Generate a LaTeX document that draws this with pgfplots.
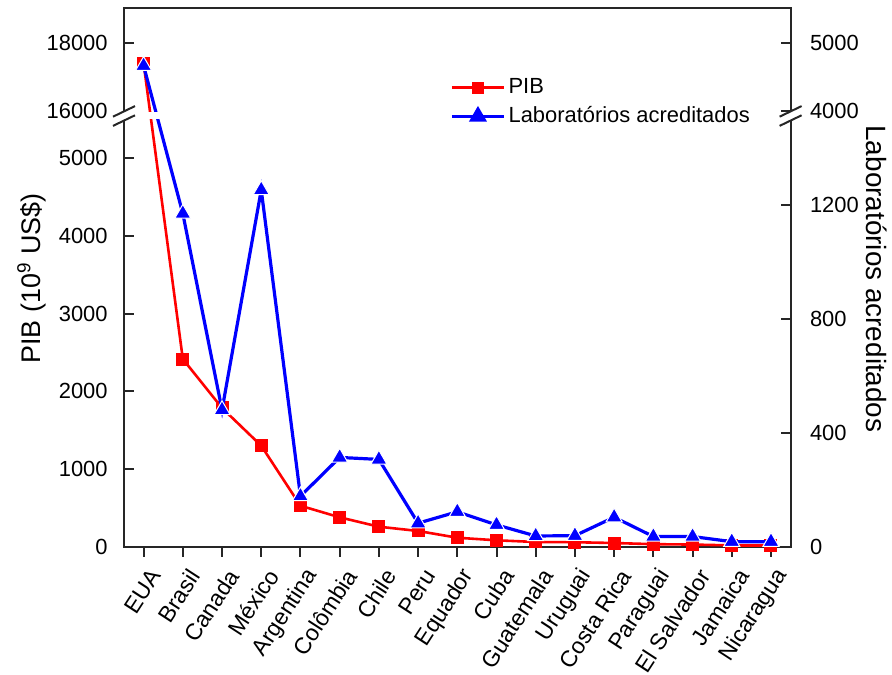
\documentclass[border=0pt]{standalone}
\usepackage{fontspec}
\setmainfont{Liberation Sans}
\usepackage{pgfplots}
\usepackage{pgfplotstable}
\pgfplotsset{compat=1.18}

% x: country index, pib: 10^9 US$, lab: accredited laboratories
\pgfplotstableread{
x pib lab
0 17400 4660
1 2415 1170
2 1784 480
3 1298 1253
4 525 177
5 376 313
6 255 306
7 200 82
8 113 122
9 80 76
10 58 37
11 55 38
12 45 103
13 30 35
14 25 35
15 14 17
16 12 17
}\dados

\pgfplotsset{
  base/.style={
    scale only axis, width=333.3bp, height=269.2bp,
    xmin=-0.5, xmax=16.5,
    axis line style={black!85, line width=1bp},
    tick style={black!85, line width=1bp},
    major tick length=5bp,
    tick label style={font=\fontsize{11}{13}\selectfont},
    /pgf/number format/assume math mode=true,
  },
}

\begin{document}
\begin{tikzpicture}
\useasboundingbox (-62bp,-64.25bp) rectangle (384bp,273.25bp);

% left axis: PIB, broken between 5500 and 16000
\begin{axis}[base,
  xtick pos=bottom, ytick pos=left,
  xtick align=outside, ytick align=inside,
  ymin=0, ymax=6935,
  ytick={0,1000,2000,3000,4000,5000,5609,6489},
  yticklabels={0,1000,2000,3000,4000,5000,16000,18000},
  yticklabel style={inner sep=0pt, xshift=-8bp},
  xtick={0,...,16},
  xticklabels={EUA,Brasil,Canada,México,Argentina,Colômbia,Chile,Peru,Equador,Cuba,Guatemala,Uruguai,Costa Rica,Paraguai,El Salvador,Jamaica,Nicaragua},
  xticklabel style={font=\fontsize{11.5}{13.5}\selectfont, inner sep=0pt, xshift=6bp, yshift=-7.5bp, rotate=57, anchor=east},
]
\addplot[red, line width=1.3bp, mark=square*, mark size=2.6bp,
  y filter/.expression={y>10000 ? 5609+(y-16000)*0.44 : y}]
  table[x=x, y=pib] {\dados};
\end{axis}

% right axis: laboratories, broken between 1500 and 4000
\begin{axis}[base,
  clip=false,
  axis x line=none, axis y line*=right,
  ytick align=inside,
  ymin=0, ymax=1892,
  ytick={0,400,800,1200,1531,1771},
  yticklabels={0,400,800,1200,4000,5000},
  yticklabel style={inner sep=0pt, xshift=9.5bp},
  legend style={at={(0.489,0.825)}, anchor=west, draw=none, fill=none,
    inner sep=0pt, row sep=2bp, font=\fontsize{11}{13}\selectfont,
    nodes={inner sep=1.5bp}},
  legend cell align=left,
  legend image code/.code={
    \draw[mark repeat=2, mark phase=2, #1] plot coordinates {(0bp,0bp) (13bp,0bp) (26bp,0bp)};},
]
\addlegendimage{red, line width=1.3bp, mark=square*, mark size=2.4bp}
\addlegendimage{blue, line width=1.6bp, mark=triangle*, mark size=3.6bp}
\addplot[blue, line width=1.6bp, mark=triangle*, mark size=4.6bp,
  mark options={fill=blue, draw=white, line width=0.5bp}, forget plot,
  y filter/.expression={y>3000 ? 1531+(y-4000)*0.240 : y}]
  table[x=x, y=lab] {\dados};
\legend{PIB, Laboratórios acreditados}

% axis break
\coordinate (L) at (rel axis cs:0,0.7996);
\coordinate (R) at (rel axis cs:1,0.7996);
\fill[white] ([yshift=-1.5bp]L) rectangle ([yshift=1.75bp]R);
\fill[white] ([shift={(-5.5bp,-4.95bp)}]L) -- ([shift={(5.5bp,0.35bp)}]L) -- ([shift={(5.5bp,4.95bp)}]L) -- ([shift={(-5.5bp,-0.35bp)}]L) -- cycle;
\fill[white] ([shift={(-5.5bp,-4.95bp)}]R) -- ([shift={(5.5bp,0.35bp)}]R) -- ([shift={(5.5bp,4.95bp)}]R) -- ([shift={(-5.5bp,-0.35bp)}]R) -- cycle;
\draw[black!85, line width=1bp] ([shift={(-5.5bp,-0.35bp)}]L) -- ([shift={(5.5bp,4.95bp)}]L);
\draw[black!85, line width=1bp] ([shift={(-5.5bp,-4.95bp)}]L) -- ([shift={(5.5bp,0.35bp)}]L);
\draw[black!85, line width=1bp] ([shift={(-5.5bp,-0.35bp)}]R) -- ([shift={(5.5bp,4.95bp)}]R);
\draw[black!85, line width=1bp] ([shift={(-5.5bp,-4.95bp)}]R) -- ([shift={(5.5bp,0.35bp)}]R);
\end{axis}

\node[rotate=90, font=\fontsize{13.5}{16}\selectfont] at (-46.15bp,134bp) {PIB (10\textsuperscript{9} US\$)};
\node[rotate=-90, font=\fontsize{14}{16}\selectfont] at (376.35bp,133.75bp) {Laboratórios acreditados};
\end{tikzpicture}
\end{document}
